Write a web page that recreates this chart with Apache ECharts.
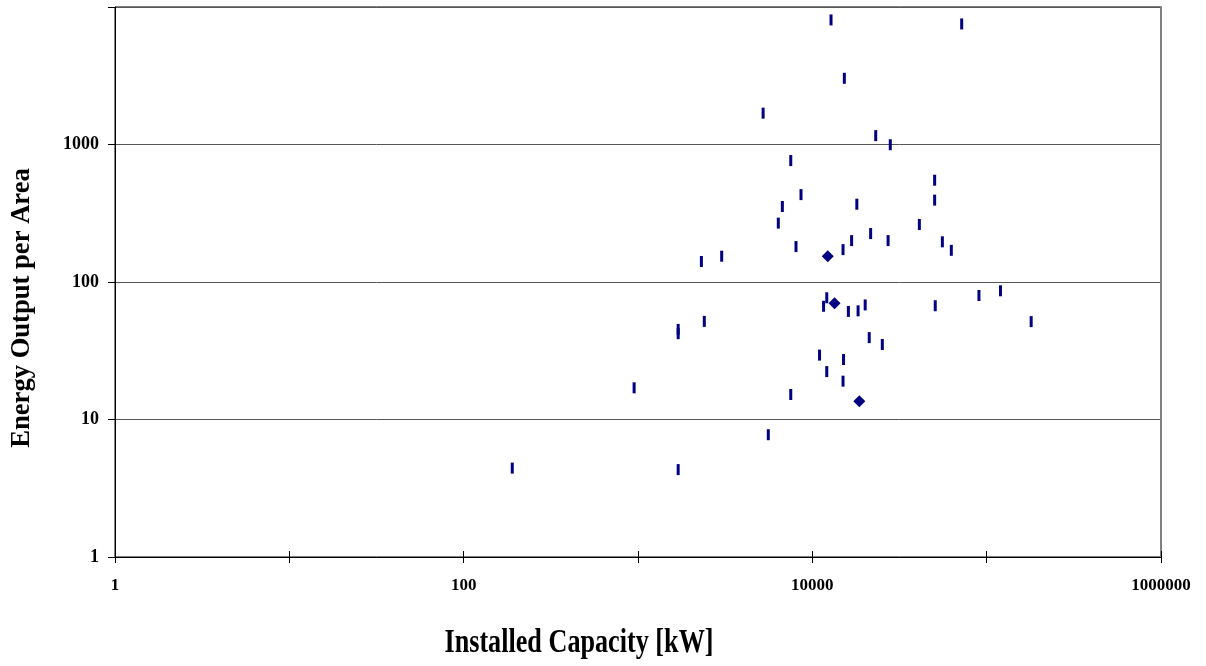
<!DOCTYPE html>
<html>
<head>
<meta charset="utf-8">
<script src="https://cdn.jsdelivr.net/npm/echarts@6/dist/echarts.min.js"></script>
<style>
html,body{margin:0;padding:0;background:#fff;}
#chart{width:1206px;height:666px;}
</style>
</head>
<body>
<div id="chart"></div>
<script>
// Installed capacity [kW] of the sites (dash markers)
var capacityKW = [12800, 71900, 15260, 5220, 23100, 28000, 7520, 50300, 8610, 50300,
  6730, 18000, 6380, 41100, 21600, 16800, 27200, 55700, 8060, 62700,
  15000, 2310, 3020, 90300, 120000, 12100, 11600, 16100, 18300, 20100,
  50700, 2400, 1700, 1700, 180000, 21200, 25200, 11000, 15100, 12100,
  15000, 950, 7520, 5590, 190, 1700];
// Energy output per area (dash markers)
var outputPerArea = [8050, 7530, 3030, 1690, 1160, 996, 764, 550, 432, 394,
  354, 368, 268, 262, 225, 200, 200, 196, 181, 170,
  172, 141, 154, 79.8, 86.3, 76.8, 66.6, 61.1, 61.7, 68.1,
  67.2, 51.7, 45.2, 42.1, 51.5, 39.4, 35.1, 29.4, 27.3, 22.3,
  19.0, 17.0, 15.2, 7.75, 4.43, 4.32];
// Highlighted sites (diamond markers)
var diamondCapacity = [12260, 13410, 18600];
var diamondOutput = [154, 70, 13.6];

// tick labels indexed by decade exponent
var xTickLabels = ['1', '', '100', '', '10000', '', '1000000'];
var yTickLabels = ['1', '10', '100', '1000', ''];

var xTitle = 'Installed Capacity [kW]';
var yTitle = 'Energy Output per Area';

function pairs(xs, ys) {
  var out = [];
  for (var i = 0; i < xs.length; i++) out.push([xs[i], ys[i]]);
  return out;
}
function expOf(v) { return Math.round(Math.log(v) / Math.LN10); }

var chart = echarts.init(document.getElementById('chart'), null, {renderer: 'canvas'});
var serif = '"Liberation Serif", "Times New Roman", serif';
var option = {
  animation: false,
  backgroundColor: '#ffffff',
  grid: {left: 115, right: 45, top: 7, bottom: 109, show: true, borderColor: '#000000', borderWidth: 1, containLabel: false},
  xAxis: [{
    type: 'log', logBase: 10, min: 1, max: 1000000, position: 'bottom',
    axisLine: {show: true, lineStyle: {color: '#000000', width: 1}},
    axisTick: {show: true, inside: false, length: 6, lineStyle: {color: '#000000'}},
    axisLabel: {
      show: true, margin: 20, color: '#000000', fontFamily: serif, fontWeight: 'bold', fontSize: 17,
      formatter: function (v) { var e = expOf(v); return xTickLabels[e] || ''; }
    },
    splitLine: {show: false}, minorTick: {show: false}
  }, {
    type: 'log', logBase: 10, min: 1, max: 1000000, position: 'bottom',
    axisLine: {show: false},
    axisTick: {show: true, inside: true, length: 6, lineStyle: {color: '#000000'}},
    axisLabel: {show: false}, splitLine: {show: false}
  }],
  yAxis: [{
    type: 'log', logBase: 10, min: 1, max: 10000, position: 'left',
    axisLine: {show: true, lineStyle: {color: '#000000', width: 1}},
    axisTick: {show: true, inside: false, length: 7, lineStyle: {color: '#000000'}},
    axisLabel: {
      show: true, margin: 16, color: '#000000', fontFamily: serif, fontWeight: 'bold', fontSize: 18,
      formatter: function (v) { var e = expOf(v); return yTickLabels[e] || ''; }
    },
    splitLine: {show: true, lineStyle: {color: '#555555', width: 1}}
  }, {
    type: 'log', logBase: 10, min: 1, max: 10000, position: 'right',
    axisLine: {show: true, lineStyle: {color: '#808080', width: 2}},
    axisTick: {show: false}, axisLabel: {show: false}, splitLine: {show: false}
  }],
  series: [{
    type: 'scatter', xAxisIndex: 0, yAxisIndex: 0,
    symbol: 'rect', symbolSize: [3, 11],
    itemStyle: {color: '#000080', opacity: 1},
    data: pairs(capacityKW, outputPerArea),
    z: 3
  }, {
    type: 'scatter', xAxisIndex: 0, yAxisIndex: 0,
    symbol: 'diamond', symbolSize: [12, 12],
    itemStyle: {color: '#000080', opacity: 1},
    data: pairs(diamondCapacity, diamondOutput),
    z: 4
  }],
  graphic: [{
    type: 'text', x: 579, y: 643, scaleX: 0.77, scaleY: 1,
    style: {text: xTitle, font: 'bold 34px ' + serif, fill: '#000000',
      align: 'center', verticalAlign: 'middle', textAlign: 'center', textVerticalAlign: 'middle'}
  }, {
    type: 'text', x: 22, y: 308, rotation: Math.PI / 2, scaleX: 0.95, scaleY: 1,
    style: {text: yTitle, font: 'bold 28px ' + serif, fill: '#000000',
      align: 'center', verticalAlign: 'middle', textAlign: 'center', textVerticalAlign: 'middle'}
  }]
};
chart.setOption(option);
</script>
</body>
</html>
